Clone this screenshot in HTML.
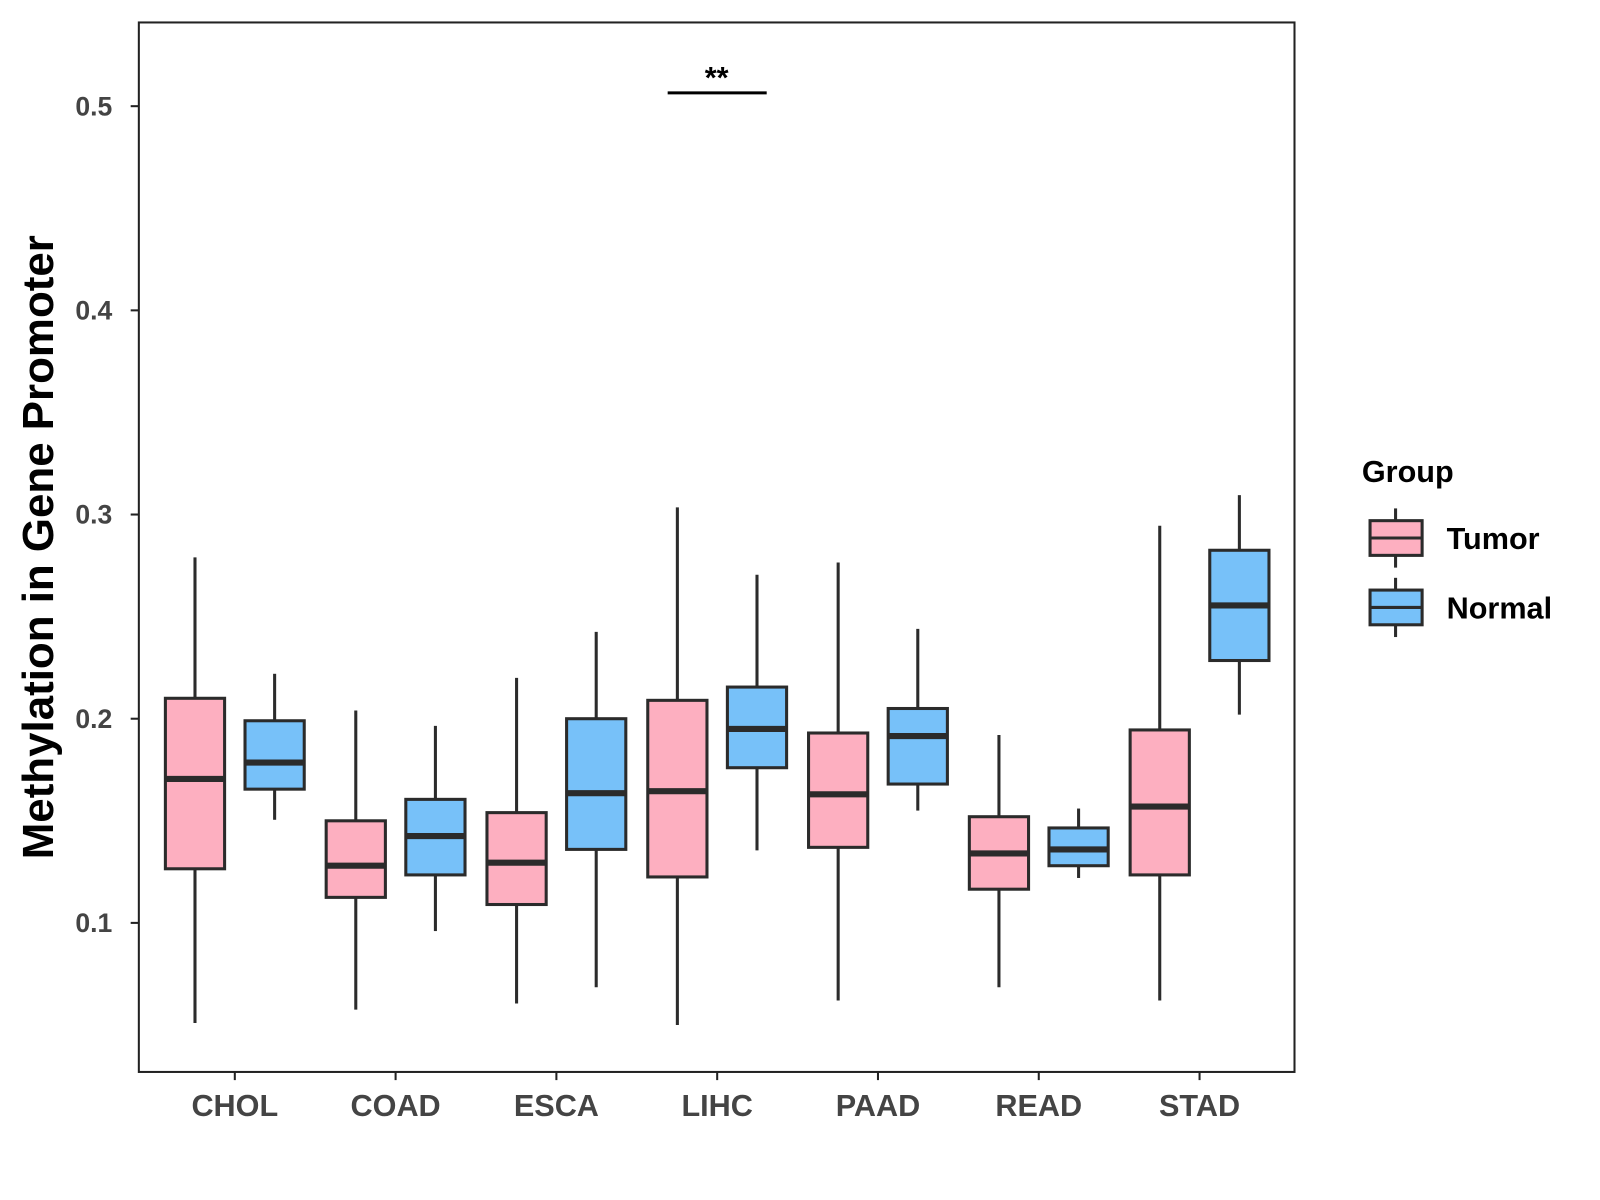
<!DOCTYPE html>
<html><head><meta charset="utf-8"><style>
html,body{margin:0;padding:0;background:#fff;}
svg{display:block;font-family:"Liberation Sans",Arial,sans-serif;}
</style></head><body>
<svg id="chart" width="1600" height="1200" viewBox="0 0 1600 1200">
<rect x="0" y="0" width="1600" height="1200" fill="#fff"/>
<g id="root" transform="scale(1.0209)">
<g id="plot"></g>
<rect x="136" y="22" width="1132" height="1028" fill="none" stroke="#222" stroke-width="2"/>
<text x="0" y="0" transform="translate(52,536) rotate(-90)" text-anchor="middle" font-size="43" font-weight="bold" fill="#000">Methylation in Gene Promoter</text>
<g>
<text x="1334" y="472" font-size="30" font-weight="bold" fill="#000">Group</text>
<g>
<line x1="1367" y1="498" x2="1367" y2="556" stroke="#2b2b2b" stroke-width="3"/>
<rect x="1342" y="510" width="51" height="34" fill="#FDAFC0" stroke="#2b2b2b" stroke-width="3"/>
<line x1="1342" y1="527" x2="1393" y2="527" stroke="#2b2b2b" stroke-width="3"/>
<text x="1417" y="538" font-size="30" font-weight="bold" fill="#000">Tumor</text>
</g>
<g>
<line x1="1367" y1="566" x2="1367" y2="624" stroke="#2b2b2b" stroke-width="3"/>
<rect x="1342" y="578" width="51" height="34" fill="#77C1F9" stroke="#2b2b2b" stroke-width="3"/>
<line x1="1342" y1="595" x2="1393" y2="595" stroke="#2b2b2b" stroke-width="3"/>
<text x="1417" y="606" font-size="30" font-weight="bold" fill="#000">Normal</text>
</g>
</g>
<g>
<line x1="654" y1="91" x2="751" y2="91" stroke="#000" stroke-width="3"/>
<text x="702" y="86" text-anchor="middle" font-size="30" font-weight="bold" fill="#000">**</text>
</g>
</g>
</svg>
<script>
const categories = ["CHOL","COAD","ESCA","LIHC","PAAD","READ","STAD"];
const yTicks = [0.1,0.2,0.3,0.4,0.5];
const yTickLabels = ["0.1","0.2","0.3","0.4","0.5"];
// [low, q1, median, q3, high]
const tumorStats = [
 [0.051,0.1265,0.1705,0.210,0.279],
 [0.0575,0.1125,0.128,0.150,0.204],
 [0.0605,0.109,0.1295,0.154,0.220],
 [0.050,0.1225,0.1645,0.209,0.3035],
 [0.062,0.137,0.163,0.193,0.2765],
 [0.0685,0.1165,0.134,0.152,0.192],
 [0.062,0.1235,0.157,0.1945,0.2945]
];
const normalStats = [
 [0.1505,0.1655,0.1785,0.199,0.222],
 [0.096,0.1235,0.1425,0.1605,0.1965],
 [0.0685,0.136,0.1635,0.200,0.2425],
 [0.1355,0.176,0.195,0.2155,0.2705],
 [0.155,0.168,0.1915,0.205,0.244],
 [0.122,0.128,0.136,0.1465,0.156],
 [0.202,0.2285,0.2555,0.2825,0.3095]
];
const NS="http://www.w3.org/2000/svg";
const y = v => 904 - (v-0.1)*2000;
const x = i => 230 + i*157.5;
const plot = document.getElementById('plot');
const svg = document.getElementById('root');
function mk(tag, attrs, parent){
  const e=document.createElementNS(NS,tag);
  for(const k in attrs) e.setAttribute(k,attrs[k]);
  parent.appendChild(e); return e;
}
yTicks.forEach((t,i)=>{
  const l=mk('line',{x1:128,x2:136,y1:y(t),y2:y(t),stroke:'#222','stroke-width':2},svg);
  
  
  const tx=mk('text',{x:110,y:y(t)+9,'text-anchor':'end','font-size':26,'font-weight':'bold',fill:'#444'},svg);
  tx.textContent=yTickLabels[i];
  
  
});
categories.forEach((c,i)=>{
  const l=mk('line',{x1:x(i),x2:x(i),y1:1050,y2:1058,stroke:'#222','stroke-width':2},svg);
  
  
  const tx=mk('text',{x:x(i),y:1093,'text-anchor':'middle','font-size':30,'font-weight':'bold',fill:'#444'},svg);
  tx.textContent=c;
  
  
});
function box(cx, s, fill, name){
  const g=mk('g',{},plot);
  
  
  const w=58;
  mk('line',{x1:cx,x2:cx,y1:y(s[4]),y2:y(s[3]),stroke:'#2b2b2b','stroke-width':3},g);
  mk('line',{x1:cx,x2:cx,y1:y(s[1]),y2:y(s[0]),stroke:'#2b2b2b','stroke-width':3},g);
  mk('rect',{x:cx-w/2,y:y(s[3]),width:w,height:y(s[1])-y(s[3]),fill:fill,stroke:'#2b2b2b','stroke-width':3},g);
  mk('line',{x1:cx-w/2,x2:cx+w/2,y1:y(s[2]),y2:y(s[2]),stroke:'#2b2b2b','stroke-width':6},g);
}
categories.forEach((c,i)=>{
  box(x(i)-39, tumorStats[i], '#FDAFC0', 'box-tumor-'+c.toLowerCase());
  box(x(i)+39, normalStats[i], '#77C1F9', 'box-normal-'+c.toLowerCase());
});
</script>
</body></html>
